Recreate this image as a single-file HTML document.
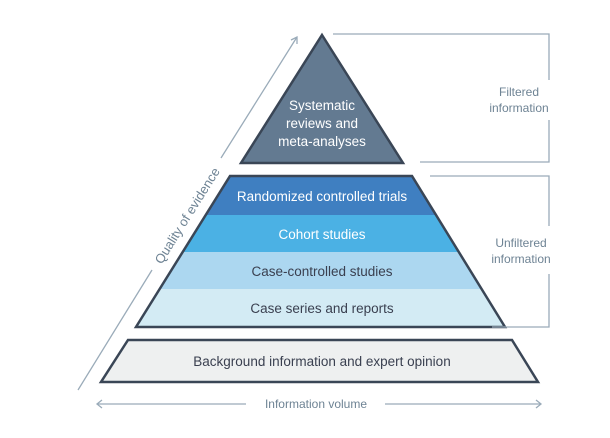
<!DOCTYPE html>
<html><head><style>html,body{margin:0;padding:0;background:#fff}svg{display:block}</style></head><body>
<svg width="610" height="438" viewBox="0 0 610 438" xmlns="http://www.w3.org/2000/svg" font-family="Liberation Sans, sans-serif">
<defs><clipPath id="tz"><polygon points="230,176 412,176 505,327 136,327"/></clipPath></defs>
<polygon points="322,35 403,163 241,163" fill="#637a91" stroke="#3a4656" stroke-width="2.5" stroke-linejoin="miter"/>
<g clip-path="url(#tz)">
<rect x="100" y="176" width="450" height="39" fill="#3f7fc1"/>
<rect x="100" y="215" width="450" height="37" fill="#4bb1e4"/>
<rect x="100" y="252" width="450" height="37" fill="#acd7f0"/>
<rect x="100" y="289" width="450" height="40" fill="#d3ebf4"/>
</g>
<polygon points="230,176 412,176 505,327 136,327" fill="none" stroke="#3a4656" stroke-width="2.5"/>
<polygon points="128,340 512,340 538,382 101,382" fill="#eef0f0" stroke="#3a4656" stroke-width="2.5"/>
<g font-size="13.5" text-anchor="middle">
<text x="322" y="110" fill="#fff">Systematic</text>
<text x="322" y="128" fill="#fff">reviews and</text>
<text x="322" y="146" fill="#fff">meta-analyses</text>
<text x="322" y="201" fill="#fff">Randomized controlled trials</text>
<text x="322" y="239" fill="#fff">Cohort studies</text>
<text x="322" y="276" fill="#3a4050">Case-controlled studies</text>
<text x="322" y="313" fill="#3a4050">Case series and reports</text>
<text x="322" y="366" fill="#3a4050">Background information and expert opinion</text>
</g>
<g stroke="#9aabb9" stroke-width="1.3" fill="none">
<polyline points="333,34 549,34 549,80"/>
<polyline points="549,120 549,162 420,162"/>
<polyline points="430,176 549,176 549,226"/>
<polyline points="549,274 549,327 492,327"/>
<line x1="97" y1="404" x2="246" y2="404"/>
<line x1="385" y1="404" x2="541" y2="404"/>
<polyline points="102,400 97,404 102,408"/>
<polyline points="536,400 541,404 536,408"/>
<line x1="78" y1="390" x2="152" y2="270"/>
<line x1="221" y1="158" x2="297" y2="37"/>
<polyline points="291,40 297,37 297,44"/>
</g>
<g font-size="12" fill="#6e8394" text-anchor="middle">
<text x="519" y="96">Filtered</text>
<text x="519" y="112">information</text>
<text x="521" y="247">Unfiltered</text>
<text x="521" y="263">information</text>
<text x="316" y="408">Information volume</text>
<text transform="translate(191,218) rotate(-58)" x="0" y="0" font-size="13">Quality of evidence</text>
</g>
</svg>
</body></html>
